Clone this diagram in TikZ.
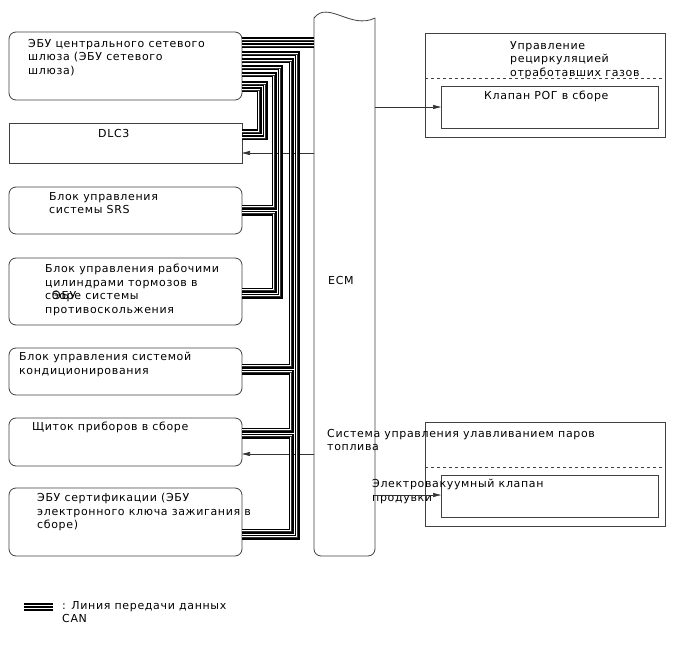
\documentclass[tikz,border=0pt]{standalone}
\usepackage{fontspec}
\setmainfont[LetterSpace=6]{DejaVu Sans}
\usepackage{tikz}
\usetikzlibrary{positioning,arrows.meta,calc}

\tikzset{
  ecubox/.style={draw=black!75, line width=0.8pt, rounded corners=7pt, minimum width=233pt, outer sep=0pt, inner sep=0pt, anchor=north west},
  plainbox/.style={draw=black!75, line width=0.8pt, outer sep=0pt, inner sep=0pt, anchor=north west},
  txt/.style={anchor=north west, align=left, inner sep=0pt, font=\fontsize{11}{13.6}\selectfont},
  canbus/.style={line width=5pt, postaction={draw=white, line width=2.8pt}, postaction={draw=black!80, line width=0.7pt}},
  canlegend/.style={line width=7.5pt, postaction={draw=white, line width=4.5pt}, postaction={draw=black, line width=1.5pt}},
  sig/.style={draw=black!80, line width=0.6pt, -{Triangle[length=8pt,width=4pt]}},
}

\begin{document}
\begin{tikzpicture}[x=1pt, y=-1pt]
\useasboundingbox (0,0) rectangle (688,658);

\node[ecubox, minimum height=68pt] (gateway) at (9,32) {};
\node[plainbox, minimum width=233pt, minimum height=40pt] (dlc) at (9,123) {};
\node[ecubox, minimum height=47pt] (srs) at (9,187) {};
\node[ecubox, minimum height=67pt] (brake) at (9,258) {};
\node[ecubox, minimum height=47pt] (aircon) at (9,348) {};
\node[ecubox, minimum height=48pt] (meter) at (9,418) {};
\node[ecubox, minimum height=68pt] (certif) at (9,488) {};

\node[txt] (gatewaytxt) at (28,39) {ЭБУ центрального сетевого\\шлюза (ЭБУ сетевого\\шлюза)};
\node[txt] (dlctxt) at (98,129) {DLC3};
\node[txt] (srstxt) at (49,192) {Блок управления\\системы SRS};
\node[txt] (braketxt) at (45,264) {Блок управления рабочими\\цилиндрами тормозов в\\сборе системы\\противоскольжения};
\node[txt] (braketxtb) at (53,291) {ЭБУ};
\node[txt] (aircontxt) at (19,352) {Блок управления системой\\кондиционирования};
\node[txt] (metertxt) at (32,422) {Щиток приборов в сборе};
\node[txt] (certiftxt) at (37,493) {ЭБУ сертификации (ЭБУ\\электронного ключа зажигания в\\сборе)};

% ECM
\node[minimum width=61pt, minimum height=538pt, outer sep=0pt, inner sep=0pt, anchor=north west] (ecm) at (314,18) {};
\draw[draw=black!75, line width=0.8pt, rounded corners=7pt] (ecm.north west) -- (ecm.south west) -- (ecm.south east) -- (ecm.north east);
\draw[draw=black!75, line width=0.8pt] (ecm.north east) .. controls +(-24,12) and +(14,-18) .. (ecm.north west);
\node[txt] (ecmtxt) at (328,276) {ECM};

% right side
\node[plainbox, minimum width=240pt, minimum height=104pt] (egr) at (425,33) {};
\draw[draw=black!75, line width=0.6pt, dashed] (egr.west |- 0,78) -- (egr.east |- 0,78);
\node[plainbox, minimum width=217pt, minimum height=42pt] (egrvalve) at (441,86) {};
\node[txt] (egrtxt) at (510,41) {Управление\\рециркуляцией\\отработавших газов};
\node[txt] (egrvalvetxt) at (484,91) {Клапан РОГ в сборе};

\node[plainbox, minimum width=240pt, minimum height=104pt] (evap) at (425,422) {};
\draw[draw=black!75, line width=0.6pt, dashed] (evap.west |- 0,467) -- (evap.east |- 0,467);
\node[plainbox, minimum width=217pt, minimum height=42pt] (vsv) at (441,475) {};
\node[txt] (evaptxt) at (327,429) {Система управления улавливанием паров\\топлива};
\node[txt] (vsvtxt) at (372,479) {Электровакуумный клапан\\продувки};

\draw[sig] (ecm.east |- 0,107) -- (egrvalve.west |- 0,107);
\draw[sig] (ecm.east |- 0,495) -- (vsv.west |- 0,495);
\draw[sig] (ecm.west |- 0,153) -- (dlc.east |- 0,153);
\draw[sig] (ecm.west |- 0,454) -- (meter.east |- 0,454);

% CAN
\draw[canbus] (gateway.east |- 0,40) -- (ecm.west |- 0,40);
\draw[canbus] (gateway.east |- 0,46) -- (ecm.west |- 0,46);
\draw[canbus] (gateway.east |- 0,54) -| (297,537) -- (certif.east |- 0,537);
\draw[canbus] (gateway.east |- 0,61) -| (291,366) -- (aircon.east |- 0,366);
\draw[canbus] (aircon.east |- 0,372) -| (291,430) -- (meter.east |- 0,430);
\draw[canbus] (meter.east |- 0,436) -| (291,531) -- (certif.east |- 0,531);
\draw[canbus] (gateway.east |- 0,68) -| (280,296) -- (brake.east |- 0,296);
\draw[canbus] (gateway.east |- 0,75) -| (274,207) -- (srs.east |- 0,207);
\draw[canbus] (srs.east |- 0,213) -| (274,290) -- (brake.east |- 0,290);
\draw[canbus] (gateway.east |- 0,84) -| (265,138) -- (dlc.east |- 0,138);
\draw[canbus] (gateway.east |- 0,90) -| (259,132) -- (dlc.east |- 0,132);

% legend
\coordinate (leg1) at (24,607);
\coordinate (leg2) at (53,607);
\draw[canlegend] (leg1) -- (leg2);
\node[txt] (legtxt) at (62,601) {: Линия передачи данных\\CAN};
\end{tikzpicture}
\end{document}
